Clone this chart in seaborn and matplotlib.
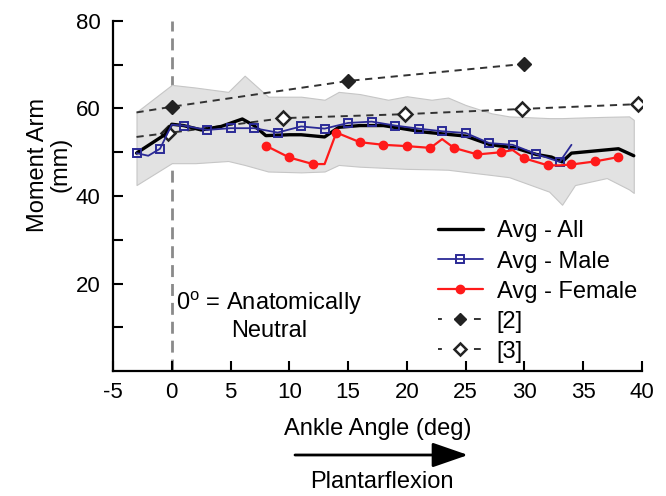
import matplotlib
matplotlib.use("Agg")
import matplotlib.pyplot as plt
from matplotlib.lines import Line2D
from matplotlib.ticker import FixedLocator
import seaborn as sns

# ---------------- data ----------------
band_x = [-3, 0, 2, 4.8, 6.2, 8.2, 11, 13, 14.2, 16, 18.4, 20, 22.1, 23.5, 25,
          27.2, 28.7, 32.1, 33.2, 34.3, 37, 38.9, 39.3]
band_upper = [59.2, 65.4, 64.8, 63.8, 67.5, 62.7, 62.7, 62.0, 63.8, 63.3, 62.0, 62.8,
              62.0, 62.5, 60.8, 58.9, 58.2, 57.8, 57.8, 57.9, 58.1, 58.2, 57.4]
band_lower = [42.5, 47.5, 47.5, 48.0, 47.1, 45.6, 45.4, 45.6, 47.1, 46.7, 46.4, 46.2,
              46.1, 46.0, 45.5, 44.8, 44.3, 41.0, 38.0, 42.5, 44.1, 41.5, 40.7]

all_x = [-3, -0.6, 0, 1, 2.5, 4.2, 6, 7, 8, 10, 11, 13, 14.2, 16, 18, 21.5, 25,
         27, 28, 29.2, 31, 32.3, 33.2, 34, 36, 38, 39.3]
all_y = [49.8, 54.0, 56.4, 56.1, 55.1, 55.9, 57.6, 56.1, 53.8, 54.0, 54.0, 53.5,
         55.7, 56.1, 56.1, 54.6, 53.7, 51.8, 51.4, 51.0, 49.5, 48.9, 47.8, 49.8,
         50.3, 50.8, 49.2]

male_x = [-3, -2, -1, 0, 1, 3, 5, 7, 9, 11, 13, 15, 17, 19, 21, 23, 25, 27, 29,
          31, 33, 34]
male_y = [49.8, 49.2, 50.8, 56.3, 56.1, 55.1, 55.5, 55.5, 54.5, 55.9, 55.4, 56.7,
          57.0, 56.1, 55.4, 54.8, 54.4, 52.1, 51.7, 49.6, 47.8, 51.7]
male_marks = [0, 2, 4, 5, 6, 7, 8, 9, 10, 11, 12, 13, 14, 15, 16, 17, 18, 19, 20]

female_x = [8, 10, 12, 13, 14, 16, 18, 20, 22, 23, 24, 26, 28, 29, 30, 32, 33,
            34, 36, 38]
female_y = [51.5, 48.8, 47.3, 47.3, 54.5, 52.3, 51.7, 51.4, 51.0, 53.0, 51.0, 49.5,
            50.0, 50.5, 48.6, 47.0, 47.0, 47.2, 47.9, 48.9]
female_marks = [0, 1, 2, 4, 5, 6, 7, 8, 10, 11, 12, 14, 15, 17, 18, 19]

ref2_x = [-3, 0, 15, 30]
ref2_y = [59.1, 60.4, 66.3, 70.2]
ref2_marks = [1, 2, 3]

ref3_x = [-3, -0.3, 9.5, 19.8, 29.8, 39.7]
ref3_y = [53.5, 54.4, 57.8, 58.7, 59.9, 61.0]
ref3_marks = [1, 2, 3, 4, 5]

legend_labels = ["Avg - All", "Avg - Male", "Avg - Female", "[2]", "[3]"]
x_ticks = [-5, 0, 5, 10, 15, 20, 25, 30, 35, 40]
y_major = [20, 40, 60, 80]
y_minor = [10, 30, 50, 70]

# ---------------- style ----------------
sns.set_theme(style="ticks")
plt.rcParams['font.family'] = ['Liberation Sans', 'DejaVu Sans']
plt.rcParams['mathtext.default'] = 'regular'
plt.rcParams['text.color'] = 'black'
plt.rcParams['axes.labelcolor'] = 'black'

BLUE = '#2b2a96'
RED = '#ff1a1a'
DASH = '#333333'

fig = plt.figure(figsize=(6.66, 4.96), dpi=100)
ax = fig.add_axes([113 / 666, 125 / 496, 529 / 666, 350 / 496])

# vertical neutral line
ax.axvline(0, color='#8a8a8a', lw=2, dashes=(4.3, 2.5), zorder=0.5)

# grey band
ax.fill_between(band_x, band_lower, band_upper, facecolor='#e2e2e2',
                edgecolor='#c6c6c6', lw=0.8, zorder=1)

# reference studies
sns.lineplot(x=ref2_x, y=ref2_y, ax=ax, color=DASH, lw=1.4,
             linestyle=(0, (3.7, 2.9)), marker='D', markevery=ref2_marks,
             markersize=7, markerfacecolor='#222222', markeredgecolor='#222222',
             markeredgewidth=1, zorder=2)
sns.lineplot(x=ref3_x, y=ref3_y, ax=ax, color=DASH, lw=1.4,
             linestyle=(0, (3.7, 2.9)), marker='D', markevery=ref3_marks,
             markersize=7, markerfacecolor='white', markeredgecolor='#222222',
             markeredgewidth=1.8, zorder=2)

# averages
sns.lineplot(x=all_x, y=all_y, ax=ax, color='black', lw=2.4, zorder=3)
sns.lineplot(x=male_x, y=male_y, ax=ax, color=BLUE, lw=1.3, marker='s',
             markevery=male_marks, markersize=6, markerfacecolor='none',
             markeredgecolor=BLUE, markeredgewidth=1.4, zorder=4)
sns.lineplot(x=female_x, y=female_y, ax=ax, color=RED, lw=1.6, marker='o',
             markevery=female_marks, markersize=6, markerfacecolor=RED,
             markeredgecolor=RED, markeredgewidth=1, zorder=5)

# axes
ax.set_xlim(-5, 40)
ax.set_ylim(0, 80)
ax.xaxis.set_major_locator(FixedLocator(x_ticks))
ax.yaxis.set_major_locator(FixedLocator(y_major))
ax.yaxis.set_minor_locator(FixedLocator(y_minor))
ax.set_xticklabels([str(t) for t in x_ticks])
ax.set_yticklabels([str(t) for t in y_major])
sns.despine(ax=ax)
for s in ['left', 'bottom']:
    ax.spines[s].set_linewidth(1.6)
    ax.spines[s].set_color('black')
ax.tick_params(axis='both', which='both', direction='in', length=7, width=1.5,
               color='black', labelsize=16, labelcolor='black')
ax.tick_params(axis='x', pad=8)
ax.tick_params(axis='y', pad=9)

ax.set_ylabel("Moment Arm\n(mm)", fontsize=17, color='black', linespacing=1.05)
ax.yaxis.set_label_coords(-0.078, 0.59)
ax.set_xlabel("Ankle Angle (deg)", fontsize=17, color='black')
ax.xaxis.set_label_coords(0.5, -0.135)

ax.text(8.3, 12.6, "0$^{o}$ = Anatomically\nNeutral", fontsize=17, ha='center',
        va='center', multialignment='center', linespacing=1.15, color='black')

# plantarflexion arrow and label
ax.annotate("", xy=(468 / 666, 1 - 455 / 496), xytext=(295 / 666, 1 - 455 / 496),
            xycoords='figure fraction', textcoords='figure fraction',
            arrowprops=dict(arrowstyle='-|>,head_length=1.3,head_width=0.45',
                            lw=2, color='black', shrinkA=0, shrinkB=0,
                            mutation_scale=17),
            annotation_clip=False)
fig.text(382 / 666, 3 / 496, "Plantarflexion", fontsize=17, ha='center',
         va='bottom', color='black')

# legend
handles = [
    Line2D([], [], color='black', lw=2.4),
    Line2D([], [], color=BLUE, lw=1.3, marker='s', markersize=6,
           markerfacecolor='none', markeredgecolor=BLUE, markeredgewidth=1.4),
    Line2D([], [], color=RED, lw=1.6, marker='o', markersize=6,
           markerfacecolor=RED, markeredgecolor=RED),
    Line2D([], [], color=DASH, lw=1.4, linestyle=(1.5, (3.5, 6.5)), marker='D',
           markersize=6, markerfacecolor='#222222', markeredgecolor='#222222'),
    Line2D([], [], color=DASH, lw=1.4, linestyle=(1.5, (3.5, 6.5)), marker='D',
           markersize=6, markerfacecolor='white', markeredgecolor='#222222',
           markeredgewidth=1.8),
]
leg = ax.legend(handles, legend_labels, loc='upper left',
                bbox_to_anchor=(0.614, 0.43), frameon=False, fontsize=17,
                borderpad=0, borderaxespad=0, handlelength=1.9,
                handletextpad=0.6, labelspacing=0.34)
for t in leg.get_texts():
    t.set_color('black')

fig.savefig("out.png", dpi=100)
